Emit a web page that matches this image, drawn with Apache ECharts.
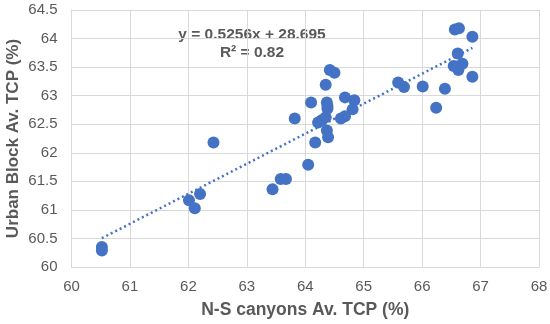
<!DOCTYPE html>
<html><head><meta charset="utf-8">
<script src="https://cdn.jsdelivr.net/npm/echarts@6/dist/echarts.min.js"></script>
<style>html,body{margin:0;padding:0;background:#fff}#c{width:550px;height:324px}</style>
</head><body><div id="c"></div>
<script>
const xValues = [60.52,60.52,62.01,62.11,62.20,62.43,63.44,63.58,63.67,64.05,63.82,64.10,64.17,64.22,64.28,64.35,64.37,64.39,64.37,64.38,64.35,64.38,64.42,64.50,64.61,64.68,64.68,64.84,64.81,65.59,65.69,66.01,66.24,66.39,66.56,66.63,66.86,66.61,66.54,66.62,66.69,66.59,66.86];
const yValues = [60.35,60.29,61.17,61.03,61.28,62.18,61.36,61.54,61.54,61.79,62.60,62.88,62.18,62.53,62.57,62.62,62.39,62.27,62.88,62.77,63.19,62.82,63.45,63.40,62.60,62.64,62.97,62.92,62.76,63.23,63.15,63.16,62.79,63.12,64.16,64.18,64.03,63.74,63.52,63.45,63.56,63.51,63.33];
const slope = 0.5256, intercept = 28.695;
const xTitle = 'N-S canyons Av. TCP (%)';
const yTitle = 'Urban Block Av. TCP (%)';
const eqText = 'y = 0.5256x + 28.695';
const r2Text = 'R² = 0.82';

const pts = xValues.map((x, i) => [x, yValues[i]]);
const xMin = Math.min(...xValues), xMax = Math.max(...xValues);
const trend = [[xMin, slope * xMin + intercept], [xMax, slope * xMax + intercept]];
const txt = '#595959', grid = '#d9d9d9', font = 'Liberation Sans, Arial, sans-serif';

const chart = echarts.init(document.getElementById('c'), null, {renderer: 'canvas'});
chart.setOption({
  animation: false,
  grid: {left: 71.5, right: 11, top: 10, bottom: 57, containLabel: false, outerBoundsMode: 'none'},
  xAxis: {
    type: 'value', min: 60, max: 68, interval: 1,
    axisLine: {show: true, lineStyle: {color: grid}},
    axisTick: {show: false},
    splitLine: {show: true, lineStyle: {color: grid}},
    axisLabel: {color: txt, fontSize: 15, fontFamily: font, margin: 12},
    name: xTitle, nameLocation: 'middle', nameGap: 34, nameMoveOverlap: false,
    nameTextStyle: {color: txt, fontSize: 17.5, fontWeight: 'bold', fontFamily: font}
  },
  yAxis: {
    type: 'value', min: 60, max: 64.5, interval: 0.5,
    axisLine: {show: true, lineStyle: {color: grid}},
    axisTick: {show: false},
    splitLine: {show: true, lineStyle: {color: grid}},
    axisLabel: {color: txt, fontSize: 15, fontFamily: font, margin: 14},
    name: yTitle, nameLocation: 'middle', nameGap: 50, nameRotate: 90, nameMoveOverlap: false,
    nameTextStyle: {color: txt, fontSize: 17, fontWeight: 'bold', fontFamily: font}
  },
  series: [
    {type: 'line', data: trend, showSymbol: false, symbol: 'none', z: 1,
     lineStyle: {color: '#4472C4', width: 2.5, type: [2, 3]}},
    {type: 'scatter', data: pts, symbol: 'circle', symbolSize: 12, z: 2,
     itemStyle: {color: '#4472C4', opacity: 1}}
  ],
  graphic: [
    {type: 'text', x: 252, y: 35, style: {text: eqText, fill: txt, font: 'bold 15.5px ' + font, textAlign: 'center', textVerticalAlign: 'middle'}},
    {type: 'text', x: 252, y: 53, style: {text: r2Text, fill: txt, font: 'bold 15.5px ' + font, textAlign: 'center', textVerticalAlign: 'middle'}}
  ]
});
</script></body></html>
